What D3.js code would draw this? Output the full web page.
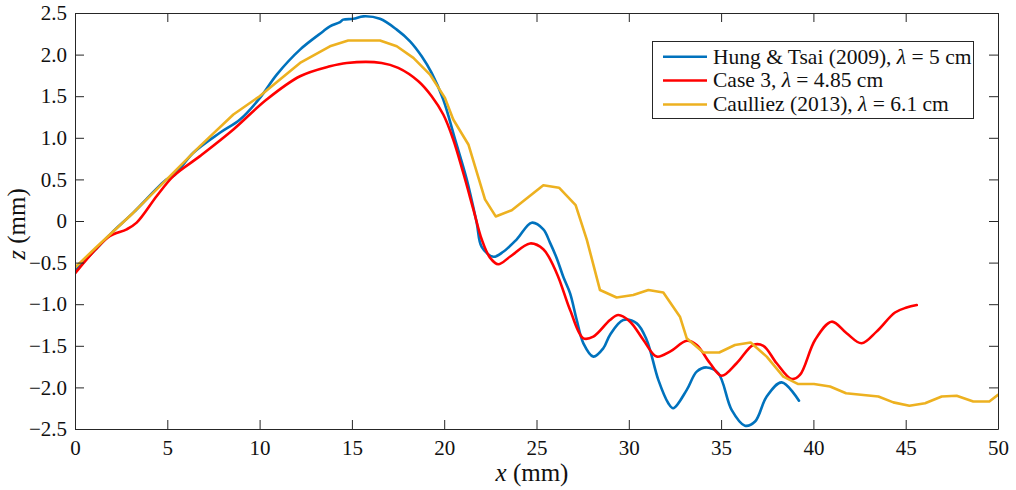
<!DOCTYPE html>
<html><head><meta charset="utf-8">
<script src="https://cdn.jsdelivr.net/npm/d3@7"></script>
<style>body{margin:0;background:#fff}svg{display:block}</style>
</head><body>
<script>
const xTicks = [0,5,10,15,20,25,30,35,40,45,50];
const yTicks = [-2.5,-2.0,-1.5,-1.0,-0.5,0,0.5,1.0,1.5,2.0,2.5];
const seriesNames = ["Hung & Tsai (2009), ", "Case 3, ", "Caulliez (2013), "];
const seriesLambda = [" = 5 cm", " = 4.85 cm", " = 6.1 cm"];
const seriesColors = ["#0072BD", "#FF0000", "#EDB120"];

const hungX = [0,1.08,2.0,3.16,4.97,5.33,6.41,7.85,8.94,10.02,10.93,12.19,13.45,13.81,14.36,14.53,15.08,15.62,16.52,17.43,18.15,18.78,19.32,19.95,20.59,21.22,21.76,22.03,22.66,23.2,23.93,24.74,25.37,25.73,26.1,26.45,26.82,27.18,27.54,28.08,28.62,28.98,29.7,30.43,30.97,31.6,32.14,32.41,33.14,33.68,34.22,34.85,35.57,36.29,36.84,37.47,38.28,39.22];
const hungZ = [-0.6,-0.35,-0.14,0.1,0.5,0.54,0.82,1.06,1.22,1.48,1.76,2.06,2.28,2.34,2.39,2.42,2.43,2.46,2.43,2.3,2.16,1.98,1.78,1.46,0.98,0.5,-0.02,-0.31,-0.43,-0.37,-0.22,-0.02,-0.1,-0.26,-0.45,-0.67,-0.87,-1.19,-1.47,-1.63,-1.53,-1.37,-1.19,-1.23,-1.43,-1.91,-2.19,-2.25,-2.03,-1.81,-1.76,-1.83,-2.27,-2.46,-2.41,-2.11,-1.94,-2.16];

const caseX = [0,1.08,1.9,2.8,3.34,4.43,5.33,6.77,8.58,10.38,12.19,13.81,14.72,16.61,17.51,18.6,19.32,19.95,20.49,21.03,21.58,22.03,22.48,22.93,23.56,24.65,25.37,26.1,26.82,27.54,28.08,28.98,29.43,30.07,30.79,31.51,32.23,33.14,33.68,34.4,35.03,35.84,36.74,37.29,38.01,38.82,39.27,40.09,40.99,41.8,42.61,43.42,44.42,45.05,45.6];
const caseZ = [-0.63,-0.35,-0.18,-0.1,-0.02,0.3,0.54,0.78,1.1,1.46,1.74,1.86,1.9,1.9,1.84,1.68,1.5,1.28,0.98,0.58,0.14,-0.22,-0.44,-0.52,-0.43,-0.27,-0.34,-0.63,-1.07,-1.41,-1.39,-1.19,-1.13,-1.21,-1.43,-1.63,-1.57,-1.44,-1.49,-1.71,-1.86,-1.71,-1.49,-1.5,-1.71,-1.9,-1.85,-1.43,-1.21,-1.35,-1.47,-1.33,-1.1,-1.04,-1.01];

const caulX = [0,1.08,3.16,4.97,6.77,8.58,10.0,12.19,13.81,14.8,16.52,17.43,18.33,19.23,20.04,20.49,21.31,22.21,22.79,23.66,25.37,26.22,27.12,27.72,28.44,29.34,30.24,31.06,31.87,32.77,33.14,34.04,34.9,35.75,36.6,37.47,38.37,39.18,40.03,40.9,41.77,43.52,44.33,45.2,46.05,46.95,47.76,48.66,49.53,50.0];
const caulZ = [-0.56,-0.33,0.1,0.5,0.9,1.28,1.5,1.9,2.1,2.17,2.17,2.1,1.96,1.76,1.48,1.22,0.92,0.26,0.055,0.13,0.43,0.4,0.19,-0.22,-0.83,-0.92,-0.89,-0.83,-0.86,-1.15,-1.41,-1.58,-1.58,-1.49,-1.46,-1.63,-1.87,-1.96,-1.96,-1.99,-2.07,-2.11,-2.18,-2.22,-2.19,-2.11,-2.1,-2.17,-2.17,-2.09];

const W = 1016, H = 490;
const m = {left:75, right:18, top:13, bottom:61};
const svg = d3.select("body").append("svg").attr("width",W).attr("height",H);
const x = d3.scaleLinear().domain([0,50]).range([m.left, W-m.right]);
const y = d3.scaleLinear().domain([-2.5,2.5]).range([H-m.bottom, m.top]);
const font = '"Liberation Serif"';
const axisColor = "#262626";
const tickLen = 9;

function fmt(v){ if (v===0) return "0"; return d3.format(".1f")(v).replace("-", "\u2212"); }

svg.append("defs").append("clipPath").attr("id","clip").append("rect")
  .attr("x",m.left).attr("y",m.top).attr("width",W-m.left-m.right).attr("height",H-m.top-m.bottom);

const data = [[hungX,hungZ],[caseX,caseZ],[caulX,caulZ]];
const curves = [d3.curveCatmullRom, d3.curveCatmullRom, d3.curveLinear];
const g = svg.append("g").attr("clip-path","url(#clip)");
data.forEach((d,i)=>{
  const pts = d[0].map((v,k)=>[v,d[1][k]]);
  g.append("path").datum(pts)
    .attr("fill","none").attr("stroke",seriesColors[i]).attr("stroke-width",2.6)
    .attr("stroke-linejoin","round").attr("stroke-linecap","round")
    .attr("d", d3.line().x(p=>x(p[0])).y(p=>y(p[1])).curve(curves[i]));
});

const xAxisB = d3.axisBottom(x).tickValues(xTicks).tickFormat(d=>d).tickSizeInner(-tickLen).tickSizeOuter(0).tickPadding(11);
const yAxisL = d3.axisLeft(y).tickValues(yTicks).tickFormat(fmt).tickSizeInner(-tickLen).tickSizeOuter(0).tickPadding(8);
const xAxisT = d3.axisTop(x).tickValues(xTicks).tickFormat("").tickSizeInner(-tickLen).tickSizeOuter(0);
const yAxisR = d3.axisRight(y).tickValues(yTicks).tickFormat("").tickSizeInner(-tickLen).tickSizeOuter(0);
function style(sel){
  sel.attr("font-family",font).attr("font-size",21);
  sel.selectAll("path").attr("stroke",axisColor).attr("stroke-width",1);
  sel.selectAll("line").attr("stroke",axisColor).attr("stroke-width",1);
  sel.selectAll("text").attr("fill","#111").attr("font-family",font).attr("font-size",21);
}
style(svg.append("g").attr("transform",`translate(0,${H-m.bottom})`).call(xAxisB));
style(svg.append("g").attr("transform",`translate(${m.left},0)`).call(yAxisL));
style(svg.append("g").attr("transform",`translate(0,${m.top})`).call(xAxisT));
style(svg.append("g").attr("transform",`translate(${W-m.right},0)`).call(yAxisR));

const xt = svg.append("text").attr("x",532).attr("y",481)
  .attr("text-anchor","middle").attr("font-family",font).attr("font-size",25).attr("fill","#111");
xt.append("tspan").attr("font-style","italic").text("x");
xt.append("tspan").text(" (mm)");
const yt = svg.append("text").attr("transform",`translate(25,224) rotate(-90)`)
  .attr("text-anchor","middle").attr("font-family",font).attr("font-size",25).attr("fill","#111");
yt.append("tspan").attr("font-style","italic").text("z");
yt.append("tspan").text(" (mm)");

const lg = svg.append("g");
lg.append("rect").attr("x",652.5).attr("y",41.5).attr("width",321).attr("height",77)
  .attr("fill","#fff").attr("stroke",axisColor).attr("stroke-width",1);
const rowsY = [56.7,80.5,104.5];
seriesNames.forEach((n,i)=>{
  lg.append("line").attr("x1",663).attr("x2",707).attr("y1",rowsY[i]).attr("y2",rowsY[i])
    .attr("stroke",seriesColors[i]).attr("stroke-width",2.6);
  const t = lg.append("text").attr("x",713).attr("y",rowsY[i]+6.8)
    .attr("font-family",font).attr("font-size",21.5).attr("fill","#111");
  t.append("tspan").text(n);
  t.append("tspan").attr("font-style","italic").text("\u03BB");
  t.append("tspan").text(seriesLambda[i]);
});
</script>
</body></html>
